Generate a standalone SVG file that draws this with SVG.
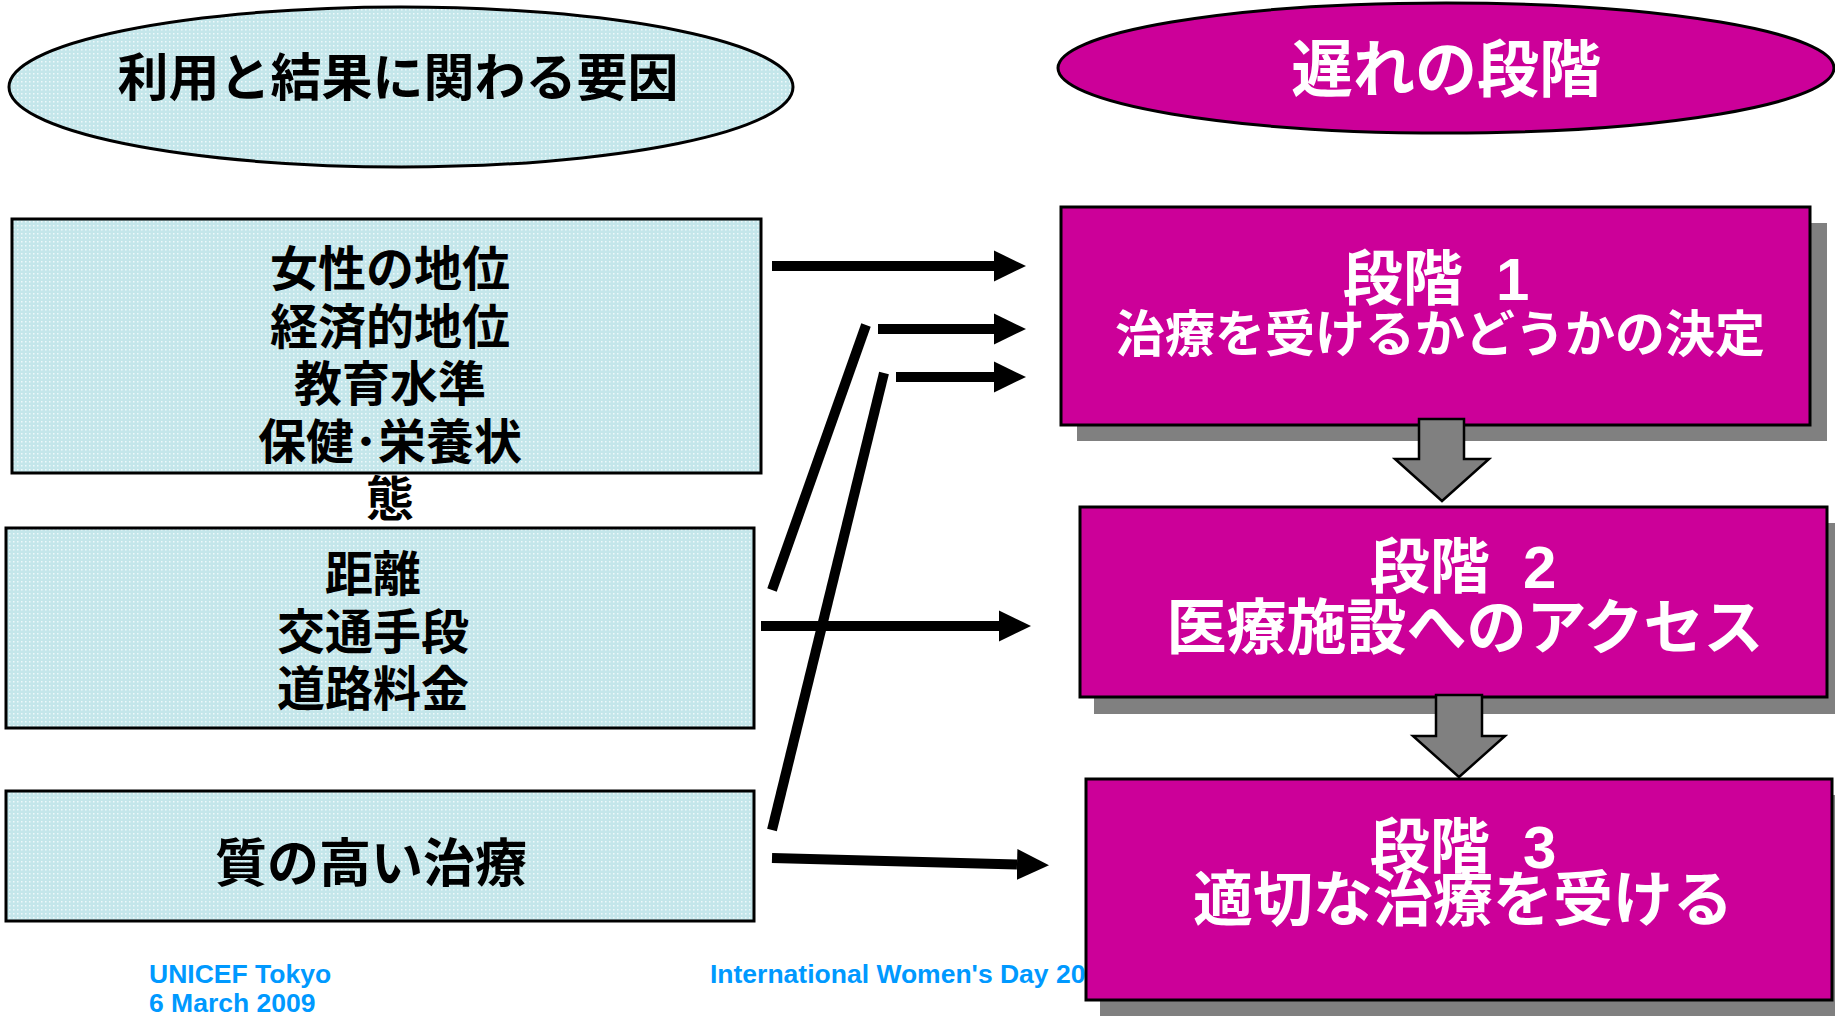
<svg xmlns="http://www.w3.org/2000/svg" width="1835" height="1016" viewBox="0 0 1835 1016">
<style>
.jp{font-family:"Liberation Sans","Noto Sans CJK JP",sans-serif;font-weight:bold;text-anchor:middle}
.blk{fill:#000}
.wht{fill:#fff}
.factor{fill:url(#dots);stroke:#000;stroke-width:3}
.stage{fill:#CC0099;stroke:#000;stroke-width:3}
.shadow{fill:#808080}
.foot{font-family:"Liberation Sans",Arial,sans-serif;font-weight:bold;font-size:26.5px;fill:#0099FF}
.conn{stroke:#000;stroke-width:10;fill:none}
.arr{marker-end:url(#head)}
.down{fill:#808080;stroke:#000;stroke-width:2.5}
</style>
<defs>
<pattern id="dots" width="4" height="4" patternUnits="userSpaceOnUse">
<rect width="4" height="4" fill="#C4E6EA"/>
<rect x="1" y="1" width="1.5" height="1.5" fill="#EEF9FA"/>
</pattern>
<marker id="head" markerUnits="userSpaceOnUse" markerWidth="32" markerHeight="32" viewBox="0 0 31 30" refX="0" refY="15" orient="auto">
<path d="M0,0 L31,15 L0,30 Z" fill="#000"/>
</marker>
</defs>
<rect width="1835" height="1016" fill="#fff"/>

<g id="footer">
<text class="foot" x="149" y="983">UNICEF Tokyo</text>
<text class="foot" x="149" y="1012">6 March 2009</text>
<text class="foot" x="710" y="983">International Women's Day 20</text>
</g>

<g id="title-factors">
<ellipse cx="401" cy="87" rx="392" ry="80" class="factor"/>
<text class="jp blk" x="398" y="96" font-size="51">利用と結果に関わる要因</text>
</g>

<g id="title-stages">
<ellipse cx="1446" cy="68" rx="388" ry="65" class="stage"/>
<text class="jp wht" x="1446" y="92" font-size="62">遅れの段階</text>
</g>

<g id="factor1">
<rect x="12" y="219" width="749" height="254" class="factor"/>
<text class="jp blk" x="390" font-size="48"><tspan x="390" y="286">女性の地位</tspan><tspan x="390" y="344">経済的地位</tspan><tspan x="390" y="401">教育水準</tspan><tspan x="390" y="459">保健･栄養状</tspan><tspan x="390" y="516">態</tspan></text>
</g>

<g id="factor2">
<rect x="6" y="528" width="748" height="200" class="factor"/>
<text class="jp blk" font-size="48"><tspan x="373" y="591">距離</tspan><tspan x="373" y="649">交通手段</tspan><tspan x="373" y="706">道路料金</tspan></text>
</g>

<g id="factor3">
<rect x="6" y="791" width="748" height="130" class="factor"/>
<text class="jp blk" x="371" y="882" font-size="52">質の高い治療</text>
</g>

<g id="stage1">
<rect x="1077" y="223" width="750" height="218" class="shadow"/>
<rect x="1061" y="207" width="749" height="218" class="stage"/>
<text class="jp wht" x="1436" y="300" font-size="60" xml:space="preserve">段階  1</text>
<text class="jp wht" x="1440" y="352" font-size="50">治療を受けるかどうかの決定</text>
</g>

<g id="stage2">
<rect x="1094" y="523" width="750" height="191" class="shadow"/>
<rect x="1080" y="507" width="747" height="190" class="stage"/>
<text class="jp wht" x="1463" y="588" font-size="60" xml:space="preserve">段階  2</text>
<text class="jp wht" x="1465" y="649" font-size="60">医療施設へのアクセス</text>
</g>

<g id="stage3">
<rect x="1100" y="795" width="750" height="230" class="shadow"/>
<rect x="1086" y="779" width="746" height="221" class="stage"/>
<text class="jp wht" x="1463" y="868" font-size="60" xml:space="preserve">段階  3</text>
<text class="jp wht" x="1463" y="921" font-size="60">適切な治療を受ける</text>
</g>

<g id="connectors">
<path class="conn arr" d="M772,266 L994,266"/>
<path class="conn arr" d="M878,329 L994,329"/>
<path class="conn arr" d="M896,377 L994,377"/>
<path class="conn arr" d="M761,626 L999,626"/>
<path class="conn arr" d="M772,858 L1017,864.5"/>
<path class="conn" d="M866,325 L772,590"/>
<path class="conn" d="M884,373 L772,830"/>
<path class="down" d="M1419,419 H1464 V459 H1489 L1442,501 L1395,459 H1419 Z"/>
<path class="down" d="M1436,695 H1482 V736 H1505 L1459,777 L1413,736 H1436 Z"/>
</g>
</svg>
